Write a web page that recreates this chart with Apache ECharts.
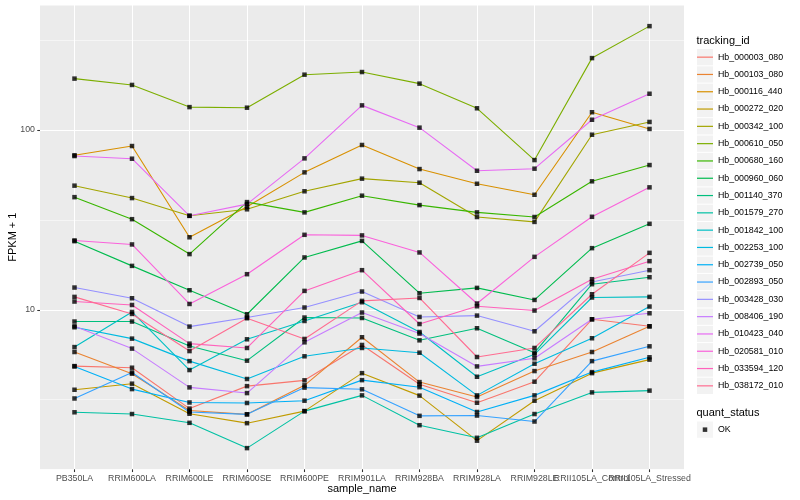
<!DOCTYPE html>
<html><head><meta charset="utf-8">
<script src="https://cdn.jsdelivr.net/npm/echarts@6/dist/echarts.min.js"></script>
<style>html,body{margin:0;padding:0;background:#fff}#c{width:800px;height:500px}</style>
</head><body><div id="c"></div>
<script>
// ---------- data ----------
const categories = ['PB350LA','RRIM600LA','RRIM600LE','RRIM600SE','RRIM600PE','RRIM901LA','RRIM928BA','RRIM928LA','RRIM928LE','RRII105LA_Control','RRII105LA_Stressed'];
const trackingIds = ['Hb_000003_080','Hb_000103_080','Hb_000116_440','Hb_000272_020','Hb_000342_100','Hb_000610_050','Hb_000680_160','Hb_000960_060','Hb_001140_370','Hb_001579_270','Hb_001842_100','Hb_002253_100','Hb_002739_050','Hb_002893_050','Hb_003428_030','Hb_008406_190','Hb_010423_040','Hb_020581_010','Hb_033594_120','Hb_038172_010'];
const colors = ['#F8766D','#EA8331','#D89000','#C09B00','#A3A500','#7CAE00','#39B600','#00BB4E','#00BF7D','#00C1A3','#00BFC4','#00BAE0','#00B0F6','#35A2FF','#9590FF','#C77CFF','#E76BF3','#FA62DB','#FF62BC','#FF6C91'];

const Hb_000003_080 = [4.86, 4.76, 2.82, 3.76, 4.05, 6.37, 3.85, 3.04, 3.98, 8.85, 8.09];
const Hb_000103_080 = [5.82, 4.41, 2.75, 2.62, 3.80, 7.03, 3.96, 3.27, 4.56, 5.82, 8.09];
const Hb_000116_440 = [72.3, 81.4, 25.3, 37.4, 58.1, 82.5, 60.6, 50.2, 43.6, 125.5, 101.3];
const Hb_000272_020 = [3.59, 3.88, 2.64, 2.34, 2.73, 4.44, 3.33, 1.87, 3.12, 4.44, 5.28];
const Hb_000342_100 = [49.0, 41.8, 33.3, 36.2, 45.6, 53.6, 50.9, 32.8, 30.8, 94.1, 110.8];
const Hb_000610_050 = [193, 178, 134, 133, 203, 210, 181, 132, 68, 251, 378];
const Hb_000680_160 = [42.3, 31.9, 20.4, 39.7, 34.8, 43.1, 38.2, 34.8, 32.8, 51.8, 63.8];
const Hb_000960_060 = [24.07, 17.54, 12.84, 9.44, 19.54, 24.16, 12.36, 13.23, 11.34, 22.01, 30.06];
const Hb_001140_370 = [8.60, 8.60, 6.29, 5.21, 9.05, 9.00, 6.76, 7.89, 5.77, 13.87, 15.17];
const Hb_001579_270 = [2.69, 2.63, 2.35, 1.70, 2.73, 3.34, 2.28, 1.94, 2.63, 3.47, 3.55];
const Hb_001842_100 = [6.20, 9.72, 4.62, 6.85, 8.66, 11.01, 7.52, 4.24, 5.65, 11.70, 11.79];
const Hb_002253_100 = [7.99, 6.91, 5.18, 4.12, 5.51, 6.13, 5.77, 3.34, 5.01, 6.94, 10.42];
const Hb_002739_050 = [4.84, 3.62, 3.05, 3.03, 3.12, 4.06, 3.71, 2.70, 3.34, 4.50, 5.44];
const Hb_002893_050 = [3.21, 4.48, 2.70, 2.62, 3.69, 3.61, 2.57, 2.58, 2.39, 5.18, 6.26];
const Hb_003428_030 = [13.29, 11.59, 8.06, 9.05, 10.29, 12.63, 9.12, 9.28, 7.59, 14.28, 16.60];
const Hb_008406_190 = [8.09, 6.08, 3.70, 3.44, 6.59, 9.65, 7.37, 4.84, 5.37, 8.85, 9.56];
const Hb_010423_040 = [71.6, 69.2, 33.3, 38.7, 69.5, 137, 103, 59.3, 60.9, 114, 159];
const Hb_020581_010 = [24.29, 23.08, 10.77, 15.77, 26.11, 25.91, 20.83, 10.83, 19.69, 32.89, 47.95];
const Hb_033594_120 = [11.11, 10.63, 6.48, 6.13, 12.73, 16.60, 8.33, 10.46, 9.90, 14.79, 18.63];
const Hb_038172_010 = [11.79, 9.48, 5.89, 8.97, 6.88, 11.20, 11.63, 5.46, 6.13, 12.20, 20.72];

const seriesValues = [Hb_000003_080, Hb_000103_080, Hb_000116_440, Hb_000272_020, Hb_000342_100, Hb_000610_050, Hb_000680_160, Hb_000960_060, Hb_001140_370, Hb_001579_270, Hb_001842_100, Hb_002253_100, Hb_002739_050, Hb_002893_050, Hb_003428_030, Hb_008406_190, Hb_010423_040, Hb_020581_010, Hb_033594_120, Hb_038172_010];

const yTicks = [10, 100];
const yMin = 1.296, yMax = 495.5;
const statusName = 'OK';

// ---------- chart ----------
const FONT = '"Liberation Sans", Arial, Helvetica, sans-serif';
const chart = echarts.init(document.getElementById('c'), null, {renderer: 'canvas'});

const points = [];
seriesValues.forEach(vals => vals.forEach((v, j) => points.push([j, v])));

const lineIcon = 'path://M0,0M16,16.3M0,7.55L16,7.55L16,8.75L0,8.75Z';
const pointIcon = 'path://M0,0M16,16.3M5.75,5.9L10.25,5.9L10.25,10.4L5.75,10.4Z';

const option = {
  animation: false,
  backgroundColor: '#ffffff',
  textStyle: {fontFamily: FONT},
  title: [
    {text: 'tracking_id', left: 696.5, top: 35, padding: 0,
     textStyle: {fontSize: 11, fontWeight: 'normal', color: '#000', fontFamily: FONT}},
    {text: 'quant_status', left: 696.5, top: 407, padding: 0,
     textStyle: {fontSize: 11, fontWeight: 'normal', color: '#000', fontFamily: FONT}}
  ],
  grid: [
    {left: 40, right: 116, top: 5, bottom: 30.7, show: true, backgroundColor: '#EBEBEB', borderWidth: 0, containLabel: false, outerBoundsMode: 'none'},
    {left: 74.5, right: 150.5, top: 5, bottom: 30.7, show: false, containLabel: false, outerBoundsMode: 'none'}
  ],
  xAxis: [
    {gridIndex: 0, type: 'value', min: 0, max: 1, show: false},
    {gridIndex: 1, type: 'category', data: categories, boundaryGap: false,
     axisLine: {show: false},
     axisTick: {show: true, length: 2.75, lineStyle: {color: '#333333', width: 1.07}},
     axisLabel: {interval: 0, hideOverlap: false, fontSize: 8.8, color: '#4D4D4D', margin: 5, fontFamily: FONT},
     splitLine: {show: true, lineStyle: {color: '#ffffff', width: 1.07}},
     name: 'sample_name', nameLocation: 'middle', nameGap: 14, nameMoveOverlap: false,
     nameTextStyle: {fontSize: 11, color: '#000', fontFamily: FONT}}
  ],
  yAxis: [
    {gridIndex: 0, type: 'log', logBase: 10, min: yMin, max: yMax,
     axisLine: {show: false},
     axisTick: {show: true, length: 2.75, customValues: yTicks, lineStyle: {color: '#333333', width: 1.07}},
     axisLabel: {customValues: yTicks, fontSize: 8.8, color: '#4D4D4D', margin: 5, fontFamily: FONT,
       formatter: v => { const r = Math.round(v); return (Math.abs(v - r) < 1e-6 && yTicks.includes(r)) ? String(r) : ''; }},
     splitLine: {show: true, lineStyle: {color: '#ffffff', width: 1.07}},
     name: 'FPKM + 1', nameLocation: 'middle', nameRotate: 90, nameGap: 22, nameMoveOverlap: false,
     nameTextStyle: {fontSize: 11, color: '#000', fontFamily: FONT}, z: 1},
    {gridIndex: 0, type: 'log', logBase: Math.sqrt(10), min: yMin, max: yMax, position: 'left',
     axisLine: {show: false}, axisTick: {show: false}, axisLabel: {show: false},
     splitLine: {show: true, lineStyle: {color: '#ffffff', width: 0.53}}, z: 0},
    {gridIndex: 1, type: 'log', logBase: 10, min: yMin, max: yMax, show: false}
  ],
  legend: [
    {orient: 'vertical', left: 697, top: 49, padding: 0, itemWidth: 16, itemHeight: 16.3, itemGap: 1,
     selectedMode: false, z: 3,
     data: trackingIds.map(n => ({name: n, icon: 'rect', itemStyle: {color: '#F2F2F2', borderWidth: 0, borderColor: 'transparent'}})),
     textStyle: {fontSize: 8.8, color: 'rgba(0,0,0,0)', fontFamily: FONT}},
    {orient: 'vertical', left: 697, top: 49, padding: 0, itemWidth: 16, itemHeight: 16.3, itemGap: 1,
     selectedMode: false, z: 4,
     data: trackingIds.map((n, i) => ({name: n, icon: lineIcon, itemStyle: {color: colors[i], borderWidth: 0, borderColor: 'transparent'}})),
     textStyle: {fontSize: 8.8, color: '#000', fontFamily: FONT}},
    {orient: 'vertical', left: 697, top: 421.5, padding: 0, itemWidth: 16, itemHeight: 16.3,
     selectedMode: false, z: 3,
     data: [{name: statusName, icon: 'rect', itemStyle: {color: '#F2F2F2', borderWidth: 0, borderColor: 'transparent'}}],
     textStyle: {fontSize: 8.8, color: 'rgba(0,0,0,0)', fontFamily: FONT}},
    {orient: 'vertical', left: 697, top: 421.5, padding: 0, itemWidth: 16, itemHeight: 16.3,
     selectedMode: false, z: 4,
     data: [{name: statusName, icon: pointIcon, itemStyle: {color: '#000', borderWidth: 0, borderColor: 'transparent'}}],
     textStyle: {fontSize: 8.8, color: '#000', fontFamily: FONT}}
  ],
  series: trackingIds.map((n, i) => ({
    name: n, type: 'line', xAxisIndex: 1, yAxisIndex: 2, data: seriesValues[i],
    symbol: 'none', showSymbol: false, silent: true, z: 2,
    lineStyle: {color: colors[i], width: 1.1}, itemStyle: {color: colors[i]}
  })).concat([{
    name: statusName, type: 'scatter', xAxisIndex: 1, yAxisIndex: 2, data: points,
    symbol: 'rect', symbolSize: 4.5, silent: true, z: 3, itemStyle: {color: '#000'}
  }])
};
chart.setOption(option);
</script>
</body></html>
